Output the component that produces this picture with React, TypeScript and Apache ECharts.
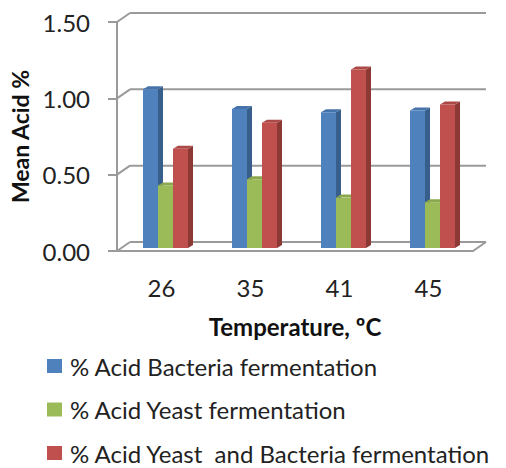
import React, { useEffect, useRef } from "react";
import * as echarts from "echarts";

const categories = ["26", "35", "41", "45"];
const seriesNames = [
  "% Acid Bacteria fermentation",
  "% Acid Yeast fermentation",
  "% Acid Yeast  and Bacteria fermentation",
];
const bacteria = [1.04, 0.91, 0.89, 0.9];
const yeast = [0.41, 0.45, 0.33, 0.3];
const yeastBacteria = [0.65, 0.82, 1.17, 0.94];
const yTicks = [0, 0.5, 1, 1.5];

const FONT = "Lato, 'Liberation Sans', Arial, sans-serif";
const GRID_COLOR = "#9a9a9a";
const DX = 13; // wall depth x
const DY = 9; // wall depth y

const palettes = [
  { front: "#4F81BD", side: "#385E8C", top: "#4673AA" },
  { front: "#9BBB59", side: "#718A3F", top: "#8BA84F" },
  { front: "#C0504D", side: "#8C3936", top: "#AC4845" },
];

function makeBarRender(k: number) {
  const p = palettes[k];
  return (params: any, api: any) => {
    const idx = api.value(0);
    const val = api.value(1);
    const top = api.coord([idx, val]);
    const base = api.coord([idx, 0]);
    const bw = 15;
    const cx = top[0] + 4 + (k - 1) * bw;
    const xl = cx - bw / 2;
    const xr = cx + bw / 2;
    const yt = top[1] - 3;
    const yb = base[1] - 3;
    const d = 5;
    const u = 3;
    return {
      type: "group",
      children: [
        {
          type: "polygon",
          shape: { points: [[xr, yt], [xr + d, yt - u], [xr + d, yb - u], [xr, yb]] },
          style: { fill: p.side },
        },
        {
          type: "polygon",
          shape: { points: [[xl, yt], [xl + d, yt - u], [xr + d, yt - u], [xr, yt]] },
          style: { fill: p.top },
        },
        {
          type: "rect",
          shape: { x: xl, y: yt, width: bw, height: yb - yt },
          style: { fill: p.front },
        },
      ],
    };
  };
}

function wallRender(params: any, api: any) {
  const cs = params.coordSys;
  const v = api.value(1);
  const y = api.coord([0, v])[1];
  const x0 = cs.x;
  const x1 = cs.x + cs.width;
  const children: any[] = [
    {
      type: "line",
      shape: { x1: x0, y1: y, x2: x0 + DX, y2: y - DY },
      style: { stroke: GRID_COLOR, lineWidth: 2 },
    },
    {
      type: "line",
      shape: { x1: x0 + DX, y1: y - DY, x2: x1 + DX, y2: y - DY },
      style: { stroke: GRID_COLOR, lineWidth: 2 },
    },
  ];
  if (v === 0) {
    children.push({
      type: "line",
      shape: { x1: x1, y1: y, x2: x1 + DX, y2: y - DY },
      style: { stroke: GRID_COLOR, lineWidth: 2 },
    });
  }
  return { type: "group", children };
}

export default function App() {
  const ref = useRef<HTMLDivElement>(null);
  useEffect(() => {
    if (!ref.current) return;
    const chart = echarts.init(ref.current, undefined, { renderer: "svg" });
    const dataSets = [bacteria, yeast, yeastBacteria];
    chart.setOption({
      animation: false,
      backgroundColor: "#ffffff",
      textStyle: { fontFamily: FONT },
      grid: { left: 117, right: 33, top: 22, bottom: 217, containLabel: false },
      legend: {
        orient: "vertical",
        left: 47,
        top: 354,
        height: 112,
        padding: 0,
        icon: "rect",
        itemWidth: 15,
        itemHeight: 14,
        itemGap: 19.5,
        data: seriesNames,
        selectedMode: false,
        textStyle: {
          fontFamily: FONT,
          fontSize: 24,
          lineHeight: 24,
          color: "#222222",
          padding: [0, 0, 0, 3],
        },
      },
      xAxis: {
        type: "category",
        data: categories,
        axisLine: { show: true, lineStyle: { color: GRID_COLOR, width: 2 } },
        axisTick: { show: false },
        axisLabel: { fontFamily: FONT, fontSize: 24, color: "#222222", margin: 24 },
        name: "Temperature, ºC",
        nameLocation: "middle",
        nameGap: 63,
        nameTextStyle: { fontFamily: FONT, fontSize: 24, fontWeight: "bold", color: "#111111" },
      },
      yAxis: {
        type: "value",
        min: 0,
        max: 1.5,
        interval: 0.5,
        axisLine: { show: true, lineStyle: { color: GRID_COLOR, width: 2 } },
        axisTick: { show: true, length: 9, lineStyle: { color: GRID_COLOR, width: 2 } },
        splitLine: { show: false },
        axisLabel: {
          fontFamily: FONT,
          fontSize: 24,
          color: "#222222",
          margin: 27,
          formatter: (v: number) => v.toFixed(2),
        },
        name: "Mean Acid %",
        nameLocation: "middle",
        nameGap: 84,
        nameTextStyle: { fontFamily: FONT, fontSize: 23, fontWeight: "bold", color: "#111111" },
      },
      series: [
        {
          type: "custom",
          name: "wall",
          silent: true,
          z: 1,
          renderItem: wallRender,
          data: yTicks.map((v) => [0, v]),
        },
        ...dataSets.map((arr, k) => ({
          type: "custom",
          name: seriesNames[k],
          z: 3,
          itemStyle: { color: palettes[k].front },
          renderItem: makeBarRender(k),
          data: arr.map((v, i) => [i, v]),
        })),
      ],
    });
    return () => chart.dispose();
  }, []);
  return (
    <div
      ref={ref}
      style={{ position: "fixed", left: 0, top: 0, width: 506, height: 468 }}
    />
  );
}
